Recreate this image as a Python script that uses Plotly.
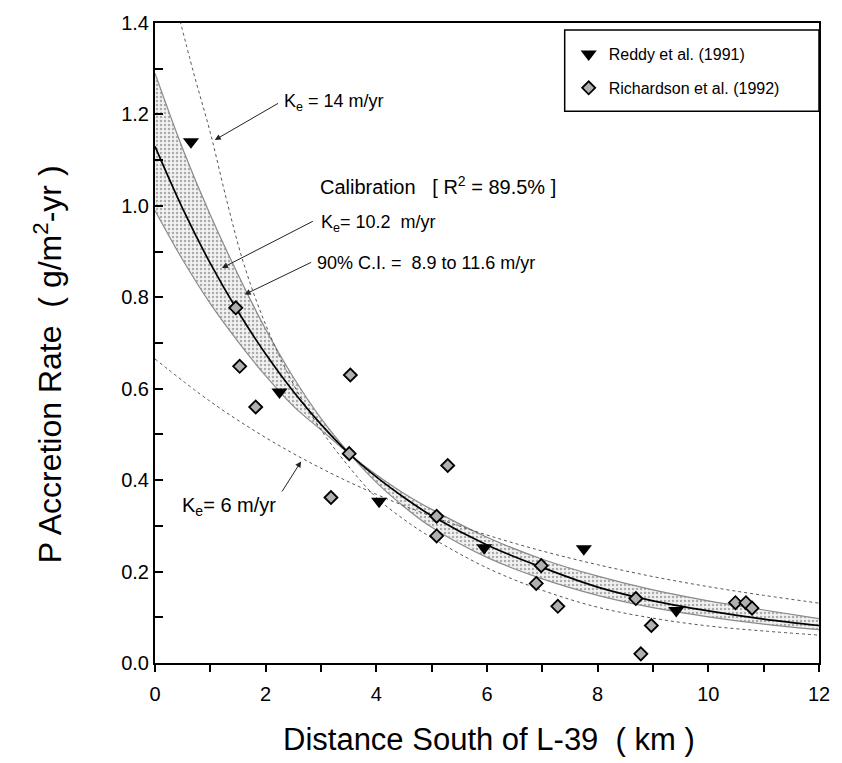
import plotly.graph_objects as go

# ---------------- data ----------------
reddy_x = [0.65, 2.25, 4.05, 5.95, 7.75, 9.42]
reddy_y = [1.14, 0.593, 0.354, 0.252, 0.25, 0.115]

rich_x = [1.46, 1.53, 1.82, 3.18, 3.53, 3.51, 5.09, 5.09, 5.29, 6.98, 6.89, 7.28, 8.69, 8.78, 8.97, 10.49, 10.68, 10.79]
rich_y = [0.777, 0.649, 0.56, 0.362, 0.63, 0.458, 0.321, 0.278, 0.432, 0.213, 0.174, 0.124, 0.141, 0.02, 0.082, 0.132, 0.132, 0.12]

# calibration curve, Ke = 10.2 m/yr
calib_x = [0, 0.5, 1.0, 1.5, 2.0, 2.5, 3.0, 3.5, 4.0, 4.5, 5.0, 6.0, 7.0, 8.0, 9.0, 10.0, 11.0, 12.0]
calib_y = [1.13, 0.994, 0.874, 0.769, 0.676, 0.594, 0.522, 0.459, 0.407, 0.362, 0.322, 0.258, 0.209, 0.166, 0.136, 0.114, 0.096, 0.082]

# 90% C.I. bounds
ci_hi_x = [0, 0.5, 1.0, 1.5, 2.0, 2.5, 3.0, 3.5, 4.0, 4.5, 5.0, 6.0, 7.0, 8.0, 9.0, 10.0, 11.0, 12.0]   # Ke = 11.6
ci_hi_y = [1.29, 1.125, 0.98, 0.85, 0.73, 0.625, 0.535, 0.46, 0.395, 0.342, 0.297, 0.231, 0.184, 0.148, 0.121, 0.101, 0.085, 0.073]
ci_lo_x = [0, 0.5, 1.0, 1.5, 2.0, 2.5, 3.0, 3.5, 4.0, 4.5, 5.0, 6.0, 7.0, 8.0, 9.0, 10.0, 11.0, 12.0]   # Ke = 8.9
ci_lo_y = [0.99, 0.882, 0.786, 0.703, 0.628, 0.562, 0.51, 0.458, 0.412, 0.371, 0.336, 0.275, 0.227, 0.19, 0.16, 0.136, 0.116, 0.097]

ke14_x = [0.4, 0.7, 1.0, 1.3, 1.6, 2.0, 2.5, 3.0, 3.5, 4.0, 4.5, 5.0, 6.0, 7.0, 8.0, 9.0, 10.0, 11.0, 12.0]
ke14_y = [1.43, 1.29, 1.16, 1.01, 0.875, 0.74, 0.61, 0.51, 0.43, 0.362, 0.314, 0.274, 0.208, 0.159, 0.122, 0.098, 0.081, 0.07, 0.061]

ke6_x = [0, 1, 2, 3, 4, 5, 6, 7, 8, 9, 10, 11, 12]
ke6_y = [0.665, 0.572, 0.493, 0.426, 0.369, 0.321, 0.280, 0.245, 0.215, 0.189, 0.167, 0.148, 0.131]

x_ticks = [0, 2, 4, 6, 8, 10, 12]
y_ticks = [0.0, 0.2, 0.4, 0.6, 0.8, 1.0, 1.2, 1.4]

FONT = "Liberation Sans, Arial, Helvetica, sans-serif"
NB = "\u00a0"

fig = go.Figure()

# confidence band fill (polygon between the two C.I. curves)
fig.add_trace(go.Scatter(
    x=ci_hi_x + ci_lo_x[::-1], y=ci_hi_y + ci_lo_y[::-1],
    mode="lines", fill="toself", fillcolor="#eeeeee",
    fillpattern=dict(shape=".", fgcolor="#666666", bgcolor="#f2f2f2", size=4, solidity=0.3),
    line=dict(width=0), showlegend=False, hoverinfo="skip"))
fig.add_trace(go.Scatter(x=ci_hi_x, y=ci_hi_y, mode="lines", line=dict(color="#8a8a8a", width=1.2, shape="spline"),
                         showlegend=False))
fig.add_trace(go.Scatter(x=ci_lo_x, y=ci_lo_y, mode="lines", line=dict(color="#8a8a8a", width=1.2, shape="spline"),
                         showlegend=False))

fig.add_trace(go.Scatter(x=ke14_x, y=ke14_y, mode="lines",
                         line=dict(color="#555555", width=1, dash="dot", shape="spline"), showlegend=False))
fig.add_trace(go.Scatter(x=ke6_x, y=ke6_y, mode="lines",
                         line=dict(color="#555555", width=1, dash="dot", shape="spline"), showlegend=False))
fig.add_trace(go.Scatter(x=calib_x, y=calib_y, mode="lines",
                         line=dict(color="black", width=1.7, shape="spline"), showlegend=False))

fig.add_trace(go.Scatter(x=reddy_x, y=reddy_y, mode="markers", name="Reddy et al. (1991)",
                         legendgroup="a",
                         marker=dict(symbol="triangle-down", size=14, color="black")))
fig.add_trace(go.Scatter(x=rich_x, y=rich_y, mode="markers", name="Richardson et al. (1992)",
                         legendgroup="b",
                         marker=dict(symbol="diamond", size=10, color="#b0b0b0",
                                     line=dict(color="black", width=1.8))))

ann = []
def arrow(x, y, ax, ay):
    ann.append(dict(x=x, y=y, ax=ax, ay=ay, xref="x", yref="y", axref="x", ayref="y",
                    text="", showarrow=True, arrowhead=2, arrowsize=1.2, arrowwidth=1,
                    arrowcolor="#222222"))
def label(x, y, t, size):
    ann.append(dict(x=x, y=y, xref="x", yref="y", text=t, showarrow=False,
                    xanchor="left", yanchor="middle", font=dict(size=size, color="black", family=FONT)))

arrow(1.08, 1.144, 2.25, 1.226)
label(2.3, 1.227, "K<sub>e</sub> = 14 m/yr", 18)
label(2.95, 1.044, "Calibration" + NB * 3 + "[ R<sup>2</sup> = 89.5% ]", 20)
arrow(1.21, 0.864, 2.88, 0.968)
label(2.97, 0.962, "K<sub>e</sub>= 10.2" + NB * 2 + "m/yr", 18)
arrow(1.62, 0.806, 2.85, 0.878)
label(2.9, 0.876, "90% C.I. =" + NB * 2 + "8.9 to 11.6 m/yr", 18)
arrow(2.64, 0.441, 2.28, 0.372)
label(0.45, 0.343, "K<sub>e</sub>= 6 m/yr", 20)

# axis titles
ann.append(dict(x=0.503, y=-0.12, xref="paper", yref="paper", yanchor="middle", xanchor="center",
                text="Distance South of L-39" + NB * 2 + "( km )", showarrow=False,
                font=dict(size=31, color="black", family=FONT)))
ann.append(dict(x=-0.161, y=0.467, xref="paper", yref="paper", xanchor="center", yanchor="middle",
                text="P Accretion Rate" + NB * 2 + "( g/m<sup>2</sup>-yr )", textangle=-90,
                showarrow=False, font=dict(size=32, color="black", family=FONT)))

fig.update_layout(
    width=842, height=763,
    margin=dict(l=155, r=21, t=18, b=100),
    paper_bgcolor="white", plot_bgcolor="white",
    font=dict(family=FONT, color="black", size=18),
    annotations=ann,
    shapes=[dict(type="rect", xref="paper", yref="paper", x0=0.617, x1=1.0, y0=0.862, y1=0.989,
                 line=dict(color="black", width=1.5), fillcolor="white", layer="below")],
    legend=dict(x=0.623, y=0.978, xanchor="left", yanchor="top",
                bgcolor="rgba(0,0,0,0)", borderwidth=0,
                font=dict(size=16, family=FONT), traceorder="grouped",
                tracegroupgap=10, itemsizing="trace"),
    xaxis=dict(range=[0, 12], tickvals=x_ticks, ticktext=[str(v) for v in x_ticks],
               ticks="outside", ticklen=7, tickwidth=1.5, tickcolor="black",
               minor=dict(dtick=1, ticks="outside", ticklen=7, tickwidth=1.5, tickcolor="black"),
               showline=True, linecolor="black", linewidth=2, mirror=True,
               showgrid=False, zeroline=False, ticklabelstandoff=5,
               tickfont=dict(size=20)),
    yaxis=dict(range=[0, 1.4], tickvals=y_ticks, ticktext=[f"{v:.1f}" for v in y_ticks],
               ticks="inside", ticklen=8, tickwidth=1.5, tickcolor="black",
               minor=dict(dtick=0.1, ticks="inside", ticklen=8, tickwidth=1.5, tickcolor="black"),
               showline=True, linecolor="black", linewidth=2, mirror=True,
               showgrid=False, zeroline=False, tickfont=dict(size=20)),
)

fig.write_html("out.html", config={"displayModeBar": False},
               post_script="document.body.style.margin='0';")
